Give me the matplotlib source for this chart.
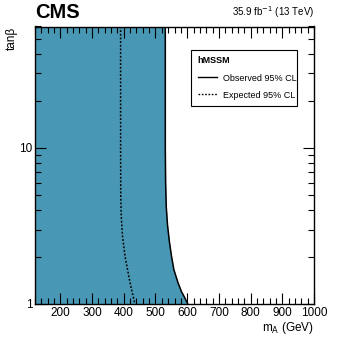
import matplotlib
matplotlib.use("Agg")
import matplotlib.pyplot as plt
import numpy as np
from matplotlib.ticker import MultipleLocator, LogLocator, FixedLocator, NullFormatter, FixedFormatter
from matplotlib.lines import Line2D

plt.rcParams['font.family'] = ['Liberation Sans', 'DejaVu Sans']

# Observed 95% CL boundary (tanb, mA)
obs_tanb = [60, 10, 6.0, 4.2, 3.2, 2.5, 2.0, 1.66, 1.37, 1.2, 1.1, 1.0]
obs_mA = [531, 531, 532, 534, 538, 544, 551, 558, 571, 582, 592, 602]
# Expected 95% CL boundary
exp_tanb = [60, 10, 5.0, 3.67, 2.72, 2.02, 1.5, 1.25, 1.11, 1.0]
exp_mA = [390, 390, 390.5, 392, 396, 404, 416, 424, 430, 435]

xticks = [200, 300, 400, 500, 600, 700, 800, 900, 1000]
yticks = [1, 10]

fig = plt.figure(figsize=(3.49, 3.40), dpi=100)
ax = fig.add_axes([35/349, 1-304/340, 279/349, (304-26.5)/340])

xmin, xmax = 120, 1000
ymin, ymax = 1, 60

fill_color = '#4897b4'
ax.fill_betweenx(obs_tanb, xmin, obs_mA, color=fill_color, lw=0, zorder=1)
ax.plot(obs_mA, obs_tanb, color='black', lw=1.1, zorder=3)
ax.plot(exp_mA, exp_tanb, color='black', lw=1.1, ls=(0, (1.2, 1.2)), zorder=3)

ax.set_xlim(xmin, xmax)
ax.set_yscale('log')
ax.set_ylim(ymin, ymax)

ax.xaxis.set_major_locator(FixedLocator(xticks))
ax.xaxis.set_minor_locator(MultipleLocator(20))
ax.yaxis.set_major_locator(FixedLocator(yticks))
ax.yaxis.set_major_formatter(FixedFormatter([str(t) for t in yticks]))
ax.yaxis.set_minor_locator(LogLocator(base=10, subs=np.arange(2, 10)))
ax.yaxis.set_minor_formatter(NullFormatter())

ax.tick_params(which='both', direction='in', top=True, right=True, labelsize=8.5, colors='black', pad=2)
ax.tick_params(which='major', length=8, width=0.8)
ax.tick_params(which='minor', length=4, width=0.8)
for s in ax.spines.values():
    s.set_linewidth(1.0)
    s.set_zorder(5)

ax.text(0.0, 1.015, 'CMS', transform=ax.transAxes, fontsize=14.5, fontweight='bold', ha='left', va='bottom')
ax.text(1.0, 1.025, r'35.9 fb$^{-1}$ (13 TeV)', transform=ax.transAxes, fontsize=7, ha='right', va='bottom')

ax.set_xlabel(r'm$_{\mathrm{A}}$ (GeV)', fontsize=8.5, loc='right', labelpad=1)
ax.set_ylabel('tanβ', fontsize=8.5, loc='top')
ax.yaxis.set_label_coords(-0.062, 1.0)

handles = [Line2D([], [], color='black', lw=1.0),
           Line2D([], [], color='black', lw=1.0, ls=(0, (1.2, 1.2)))]
leg = ax.legend(handles, ['Observed 95% CL', 'Expected 95% CL'], title='hMSSM',
                loc='upper left', bbox_to_anchor=(0.56, 0.915, 0.38, 0.0),
                mode='expand', fontsize=6.5, title_fontproperties={'weight': 'bold', 'size': 6.5},
                alignment='left', frameon=True, fancybox=False, edgecolor='black',
                framealpha=1, handlelength=2.2, handletextpad=0.6, labelspacing=0.9,
                borderpad=0.7, borderaxespad=0)
leg.get_frame().set_linewidth(0.8)
leg.set_zorder(6)

fig.savefig('out.png', dpi=100)
